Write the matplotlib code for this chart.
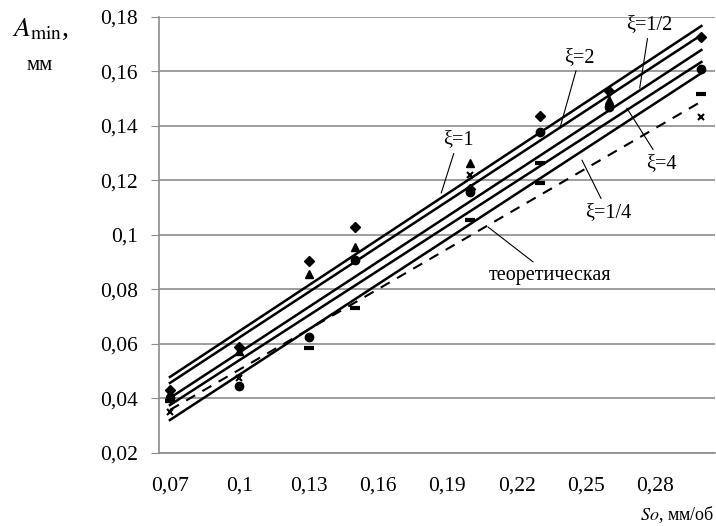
import matplotlib
matplotlib.use('Agg')
import matplotlib.pyplot as plt

plt.rcParams['font.family'] = ['Liberation Serif', 'DejaVu Serif']
plt.rcParams['mathtext.fontset'] = 'stix'

# fitted lines: values at the two ends
LINE_X = [0.07, 0.30]
XI_1 = [0.0479, 0.1767]
XI_2 = [0.0457, 0.1734]
XI_HALF = [0.0402, 0.1679]
XI_4 = [0.0376, 0.1635]
XI_QUARTER = [0.0321, 0.1594]
THEORY = [0.0358, 0.1490]

# experimental points
DIAMOND_X = [0.07, 0.10, 0.13, 0.15, 0.20, 0.23, 0.26, 0.30]
DIAMOND_Y = [0.043, 0.059, 0.0905, 0.103, 0.117, 0.1437, 0.153, 0.1727]
TRIANGLE_X = [0.07, 0.10, 0.13, 0.15, 0.20, 0.26]
TRIANGLE_Y = [0.042, 0.0575, 0.0857, 0.0956, 0.1264, 0.1495]
CIRCLE_X = [0.07, 0.10, 0.13, 0.15, 0.20, 0.23, 0.26, 0.30]
CIRCLE_Y = [0.040, 0.0446, 0.0626, 0.0908, 0.1158, 0.1378, 0.147, 0.161]
DASH_A_X = [0.07, 0.23, 0.30]
DASH_A_Y = [0.039, 0.1264, 0.1517]
DASH_B_X = [0.13, 0.15, 0.20, 0.23]
DASH_B_Y = [0.0585, 0.0732, 0.1055, 0.119]
CROSS_X = [0.07, 0.10, 0.20, 0.30]
CROSS_Y = [0.035, 0.0475, 0.122, 0.1433]

X_TICKS = [0.07, 0.10, 0.13, 0.16, 0.19, 0.22, 0.25, 0.28]
X_LABELS = ['0,07', '0,1', '0,13', '0,16', '0,19', '0,22', '0,25', '0,28']
Y_TICKS = [0.02, 0.04, 0.06, 0.08, 0.10, 0.12, 0.14, 0.16, 0.18]
Y_LABELS = ['0,02', '0,04', '0,06', '0,08', '0,1', '0,12', '0,14', '0,16', '0,18']

fig = plt.figure(figsize=(7.16, 5.26), dpi=100)
ax = fig.add_axes([0.222, 0.1388, 0.776, 0.8289])

# gridlines and frame
ax.set_xlim(0.06525, 0.3057)
ax.set_ylim(0.02, 0.18)
ax.set_yticks(Y_TICKS)
ax.set_yticklabels(Y_LABELS, fontsize=15.5)
ax.set_xticks(X_TICKS)
ax.set_xticklabels(X_LABELS, fontsize=15.5)
ax.yaxis.grid(True, color='#8c8c8c', lw=1.2)
ax.set_axisbelow(True)
for side in ['top', 'right']:
    ax.spines[side].set_visible(False)
ax.spines['left'].set_color('#8c8c8c')
ax.spines['bottom'].set_color('#8c8c8c')
ax.spines['left'].set_linewidth(1.2)
ax.spines['bottom'].set_linewidth(1.2)
ax.tick_params(axis='y', length=6, color='#8c8c8c', pad=9)
ax.tick_params(axis='x', length=0, pad=17)

# lines
for vals in [XI_1, XI_2, XI_HALF, XI_4, XI_QUARTER]:
    ax.plot(LINE_X, vals, color='black', lw=1.8)
ax.plot(LINE_X, THEORY, color='black', lw=1.5, dashes=(5, 4))

# points
ax.plot(DIAMOND_X, DIAMOND_Y, 'D', color='black', ms=5, ls='none')
ax.plot(TRIANGLE_X, TRIANGLE_Y, '^', color='black', ms=5.5, ls='none')
ax.plot(CIRCLE_X, CIRCLE_Y, 'o', color='black', ms=6, ls='none')
ax.plot(DASH_A_X, DASH_A_Y, '_', color='black', ms=7, mew=3, ls='none')
ax.plot(DASH_B_X, DASH_B_Y, '_', color='black', ms=7, mew=3, ls='none')
ax.plot(CROSS_X, CROSS_Y, 'x', color='black', ms=5, mew=1.5, ls='none')

# labels on lines
arrow = dict(arrowstyle='-', color='black', lw=0.8, shrinkA=1, shrinkB=0)
notes = [
    ('ξ=1', (0.1874, 0.1154), (0.1947, 0.1349)),
    ('ξ=2', (0.2388, 0.1393), (0.2474, 0.1653)),
    ('ξ=1/2', (0.2733, 0.1539), (0.2776, 0.1771)),
    ('ξ=4', (0.2677, 0.1466), (0.2828, 0.1264)),
    ('ξ=1/4', (0.2483, 0.1275), (0.2595, 0.1084)),
    ('теоретическая', (0.2077, 0.1029), (0.2345, 0.0853)),
]
for txt, xy, xyt in notes:
    ax.annotate(txt, xy=xy, xytext=xyt, fontsize=14.5, ha='center', va='center',
                arrowprops=arrow)

# axis titles
fig.text(0.017, 0.945, r'$A_{\mathrm{min}}$,', fontsize=20, ha='left', va='center')
fig.text(0.056, 0.876, 'мм', fontsize=15, ha='center', va='center')
fig.text(0.998, 0.021, r'$So$, мм/об', fontsize=13, ha='right', va='center')

plt.savefig('out.png', dpi=100)
